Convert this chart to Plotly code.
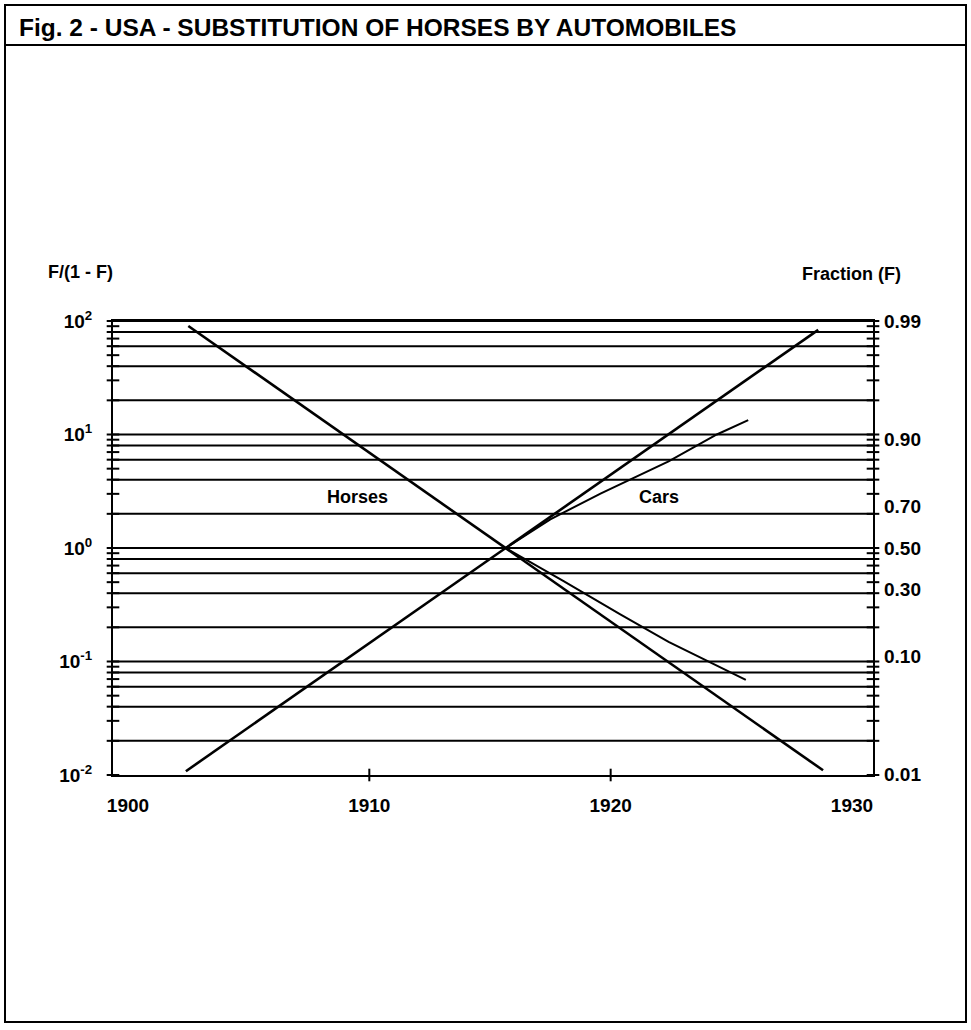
import math
import plotly.graph_objects as go

# ---------------- data ----------------
title_text = "Fig. 2 - USA - SUBSTITUTION OF HORSES BY AUTOMOBILES"

year_ticks = [1900, 1910, 1920, 1930]
year_minor_marks = [1910, 1920]

left_tick_vals = [0.01, 0.1, 1, 10, 100]
left_tick_text = ["10<sup>-2</sup>", "10<sup>-1</sup>", "10<sup>0</sup>", "10<sup>1</sup>", "10<sup>2</sup>"]

fraction_vals = [0.99, 0.90, 0.70, 0.50, 0.30, 0.10, 0.01]
fraction_text = ["0.99", "0.90", "0.70", "0.50", "0.30", "0.10", "0.01"]

grid_vals = [100, 80, 60, 40, 20, 10, 8, 6, 4, 2, 1, 0.8, 0.6, 0.4, 0.2,
             0.1, 0.08, 0.06, 0.04, 0.02]
mark_vals = [m * 10 ** k for k in (-2, -1, 0, 1) for m in range(1, 10)] + [100]

cars_fit_years = [1902.4, 1928.6]
cars_fit_vals = [0.0108, 83.6]
horses_fit_years = [1902.5, 1928.8]
horses_fit_vals = [90.4, 0.011]

cars_data_years = [1915.65, 1917.5, 1919.6, 1922.4, 1924.4, 1925.7]
cars_data_vals = [1.0, 1.79, 3.03, 5.8, 10.0, 13.4]
horses_data_years = [1915.65, 1917.1, 1918.05, 1920.4, 1922.4, 1925.6]
horses_data_vals = [1.0, 0.67, 0.51, 0.26, 0.149, 0.069]

label_horses = ("Horses", 1909.5, 2.8)
label_cars = ("Cars", 1922.0, 2.8)

# ---------------- figure ----------------
W, H = 971, 1030
L, R, T, B = 113, 98, 321, 255
x_range = [1899.38, 1930.87]
FONT = "Liberation Sans, Arial, sans-serif"

fig = go.Figure()

fig.add_trace(go.Scatter(x=horses_fit_years, y=horses_fit_vals, mode="lines",
                         line=dict(color="black", width=2.6), hoverinfo="skip"))
fig.add_trace(go.Scatter(x=cars_fit_years, y=cars_fit_vals, mode="lines",
                         line=dict(color="black", width=2.6), hoverinfo="skip"))
fig.add_trace(go.Scatter(x=horses_data_years, y=horses_data_vals, mode="lines",
                         line=dict(color="black", width=2), hoverinfo="skip"))
fig.add_trace(go.Scatter(x=cars_data_years, y=cars_data_vals, mode="lines",
                         line=dict(color="black", width=2), hoverinfo="skip"))

# tick "+" marks on the left and right axes
fig.add_trace(go.Scatter(x=[x_range[0]] * len(mark_vals), y=mark_vals, mode="markers",
                         marker=dict(symbol="line-ew", size=9, line=dict(color="black", width=2)),
                         cliponaxis=False, hoverinfo="skip"))
fig.add_trace(go.Scatter(x=[x_range[1]] * len(mark_vals), y=mark_vals, mode="markers",
                         yaxis="y2",
                         marker=dict(symbol="line-ew", size=9, line=dict(color="black", width=2)),
                         cliponaxis=False, hoverinfo="skip"))
# tick marks on the x axis
fig.add_trace(go.Scatter(x=year_minor_marks, y=[0.01] * len(year_minor_marks), mode="markers",
                         marker=dict(symbol="line-ns", size=9, line=dict(color="black", width=2)),
                         cliponaxis=False, hoverinfo="skip"))

shapes = []
for v in grid_vals:
    shapes.append(dict(type="line", xref="paper", yref="y", x0=0, x1=1,
                       y0=v, y1=v,
                       line=dict(color="black", width=2), layer="below"))

# outer frame and title separator (paper coords from pixel layout)
def px_x(p):
    return (p - L) / (W - L - R)

def px_y(p):
    return (H - B - p) / (H - T - B)

shapes.append(dict(type="rect", xref="paper", yref="paper",
                   x0=px_x(5), x1=px_x(966), y0=px_y(1022), y1=px_y(5),
                   line=dict(color="black", width=2)))
shapes.append(dict(type="line", xref="paper", yref="paper",
                   x0=px_x(5), x1=px_x(966), y0=px_y(45), y1=px_y(45),
                   line=dict(color="black", width=2)))

annotations = [
    dict(text=title_text, xref="paper", yref="paper", x=px_x(17), y=px_y(27),
         xanchor="left", yanchor="middle", showarrow=False,
         font=dict(family=FONT, size=24.5, color="black", weight="bold")),
    dict(text="F/(1 - F)", xref="paper", yref="paper", x=px_x(80), y=px_y(272),
         xanchor="center", yanchor="middle", showarrow=False,
         font=dict(family=FONT, size=18, color="black", weight="bold")),
    dict(text="Fraction (F)", xref="paper", yref="paper", x=px_x(851), y=px_y(274),
         xanchor="center", yanchor="middle", showarrow=False,
         font=dict(family=FONT, size=18, color="black", weight="bold")),
]
for txt, xx, yy in (label_horses, label_cars):
    annotations.append(dict(text=txt, x=xx, y=math.log10(yy), xref="x", yref="y",
                            showarrow=False, xanchor="center", yanchor="middle",
                            font=dict(family=FONT, size=18, color="black", weight="bold")))

tickfont = dict(family=FONT, size=19, color="black", weight="bold")

fig.update_layout(
    width=W, height=H,
    margin=dict(l=L, r=R, t=T, b=B, pad=0),
    paper_bgcolor="white", plot_bgcolor="white",
    showlegend=False,
    shapes=shapes,
    annotations=annotations,
    xaxis=dict(range=x_range, tickvals=year_ticks, ticktext=[str(y) for y in year_ticks],
               ticks="", showgrid=False, zeroline=False, showline=True, linecolor="black",
               linewidth=2, mirror=True, tickfont=tickfont, ticklabelstandoff=12),
    yaxis=dict(type="log", range=[-2, 2], tickvals=left_tick_vals, ticktext=left_tick_text,
               ticks="", showgrid=False, zeroline=False, showline=True, linecolor="black",
               linewidth=2, mirror=True, tickfont=tickfont, ticklabelstandoff=15),
    yaxis2=dict(type="log", range=[-2, 2], overlaying="y", side="right",
                tickvals=[f / (1 - f) for f in fraction_vals], ticktext=fraction_text,
                ticks="", showgrid=False, zeroline=False, showline=False,
                tickfont=tickfont, ticklabelstandoff=10),
)

fig.write_html("out.html")
